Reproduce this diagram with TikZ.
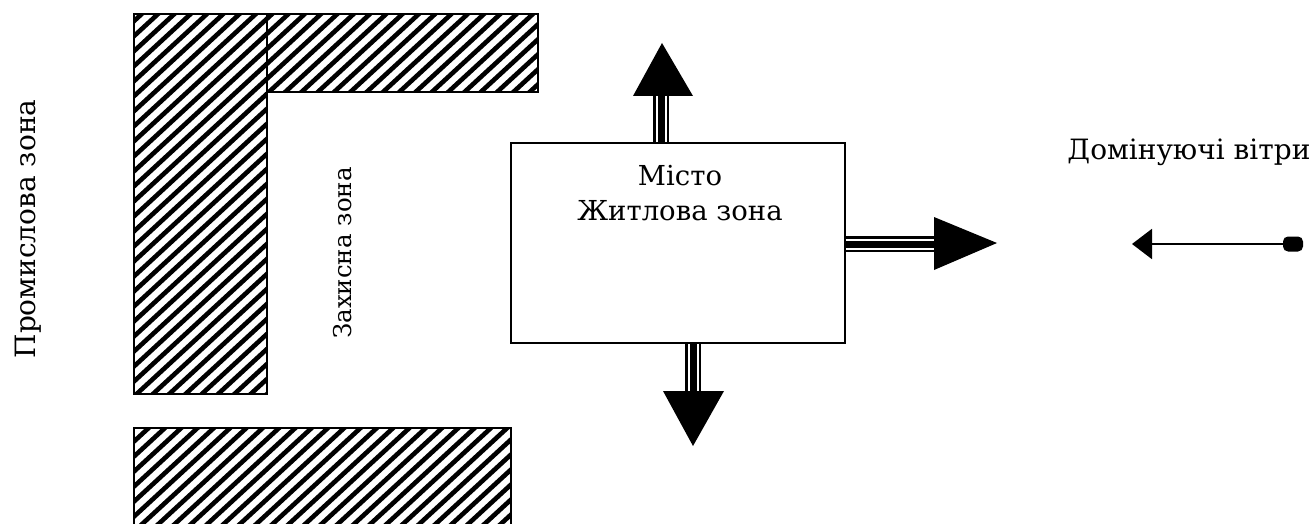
\documentclass[tikz,border=0pt]{standalone}
\usepackage{fontspec}
\setmainfont{DejaVu Serif}
\usetikzlibrary{arrows.meta}
\tikzset{
  x=1pt, y=-1pt,
  lbl/.style={inner sep=0pt, font=\fontsize{28}{35}\selectfont},
  zonebox/.style={draw=black, line width=1.8pt},
  hatchline/.style={line width=4.6pt, black},
  citybox/.style={draw=black, line width=1.6pt, fill=white, minimum width=334pt, minimum height=200pt, inner sep=0pt},
  shaftA/.style={line width=16pt, black},
  shaftB/.style={line width=11pt, white},
  shaftC/.style={line width=7pt, black},
  windline/.style={line width=2pt, -{Triangle[length=20pt,width=30pt]}},
}
\begin{document}
\begin{tikzpicture}
\useasboundingbox (0,0) rectangle (1315,524);
% hatched zones
\begin{scope}
  \clip (134,14) rectangle (267,394) (267,14) rectangle (538,92) (134,428) rectangle (511,540);
  \foreach \i in {-60,...,50} \draw[hatchline] ({\i*16.3},700) -- ++(760,-700);
\end{scope}
\draw[zonebox] (134,14) rectangle (267,394);
\draw[zonebox] (267,14) rectangle (538,92);
\draw[zonebox] (134,428) rectangle (511,560);
% labels of zones
\node[lbl, rotate=90] (prom) at (28,229) {Промислова зона};
\node[lbl, rotate=90, font=\fontsize{24.5}{30}\selectfont] (zakh) at (343,253) {Захисна зона};
% city
\node[citybox] (city) at (678,243) {};
\node[lbl, align=center, font=\fontsize{27.5}{35}\selectfont] (citytxt) at (680,193) {Місто\\Житлова зона};
% arrow coordinates
\coordinate (upBase) at (661,95);
\coordinate (upTip) at (662,43);
\coordinate (rBase) at (935,244);
\coordinate (rTip) at (997,243);
\coordinate (dBase) at (693,392);
\coordinate (dTip) at (693,446);
% up arrow
\foreach \s in {shaftA,shaftB,shaftC} \draw[\s] (city.north -| upBase) -- (upBase);
\fill (upTip) -- (633,96) -- (693,96) -- cycle;
% right arrow
\foreach \s in {shaftA,shaftB,shaftC} \draw[\s] (city.east |- rBase) -- (rBase);
\fill (rTip) -- (934,217) -- (934,270) -- cycle;
% down arrow
\foreach \s in {shaftA,shaftB,shaftC} \draw[\s] (city.south -| dBase) -- (dBase);
\fill (dTip) -- (663,391) -- (724,391) -- cycle;
% wind
\node[lbl] (windtxt) at (1189,152) {Домінуючі вітри};
\node[fill=black, inner sep=0pt, minimum width=20pt, minimum height=15pt, rounded corners=5pt] (tail) at (1293,244) {};
\coordinate (windTip) at (1132,244);
\draw[windline] (tail.center) -- (windTip);
\end{tikzpicture}
\end{document}
